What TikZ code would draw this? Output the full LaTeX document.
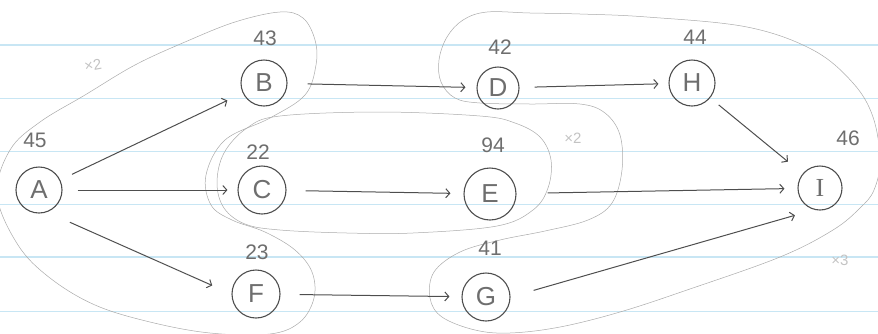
\documentclass[tikz,border=0pt]{standalone}
\usepackage{fontspec}
\setmainfont{Liberation Sans}
\newfontfamily\barfont{Liberation Serif}
\usepackage{tikz}
\usetikzlibrary{arrows.meta, positioning}
\definecolor{pencil}{RGB}{78,78,78}
\definecolor{pencillight}{RGB}{110,110,110}
\definecolor{pencilfaint}{RGB}{170,170,170}
\definecolor{pencilghost}{RGB}{195,195,195}
\definecolor{ruleblue}{RGB}{200,230,244}
\tikzset{
  task/.style={
    circle, draw=pencil, line width=1.1pt, minimum size=46pt,
    inner sep=0pt, text=pencillight, font=\fontsize{26}{26}\selectfont
  },
  weight/.style={text=pencillight, inner sep=0pt, font=\fontsize{21}{21}\selectfont},
  mult/.style={text=pencilghost, inner sep=0pt, font=\fontsize{15}{15}\selectfont},
  group/.style={draw=pencilfaint, line width=0.5pt},
  ruling/.style={draw=ruleblue, line width=1.1pt},
  arrowflow/.style={-{Straight Barb[length=4pt,width=9pt]}, line width=1pt, draw=pencil,
    shorten <=15pt, shorten >=12pt}
}

\begin{document}
\begin{tikzpicture}[x=1pt, y=-1pt]
\useasboundingbox (0,0) rectangle (878,333);

% ruled paper
\foreach \y in {45,98.3,151.7,204.3,257,311.5}
  \draw[ruling] (0,\y) -- (878,\y);

% groups
\draw[group] plot[smooth cycle, tension=0.6] coordinates {
  (-3,195) (10,150) (40,122) (85,95) (135,65) (185,42) (235,22) (280,12)
  (303,18) (315,40) (316,65) (305,95) (270,118) (225,140) (206,175)
  (211,205) (232,220) (265,232) (295,250) (312,272) (314,298) (300,322)
  (270,334) (210,333) (150,322) (95,305) (50,278) (18,245)};
\draw[group] plot[smooth cycle, tension=0.6] coordinates {
  (280,116) (380,112) (480,116) (515,123) (540,137) (551,160) (548,188)
  (533,210) (497,226) (413,233) (347,233) (280,230) (245,224) (224,208)
  (217,183) (224,153) (247,128)};
\draw[group] plot[smooth cycle, tension=0.6] coordinates {
  (487,12) (530,13) (580,14) (647,17) (747,27) (813,50) (853,83) (873,117)
  (880,160) (874,190) (860,208) (833,230) (780,257) (687,290) (620,312)
  (560,327) (510,333) (475,330) (442,317) (430,298) (434,272) (460,252)
  (500,240) (545,231) (588,220) (612,203) (622,170) (620,135) (605,113)
  (580,104) (530,104) (480,103) (455,98) (441,82) (439,60) (447,37) (463,20)};

% tasks
\node[task] (A) at (39,190) {A};
\node[task] (B) at (264,83) {B};
\node[task, minimum size=48pt] (C) at (262,190) {C};
\node[task, minimum size=48pt] (F) at (256,294) {F};
\node[task, minimum size=42pt] (D) at (498,88) {D};
\node[task, minimum size=52pt] (E) at (490,194) {E};
\node[task, minimum size=48pt] (G) at (486,297) {G};
\node[task] (H) at (692,83) {H};
\node[task, minimum size=44pt] (I) at (820,188) {\barfont I};

% durations
\node[weight] (wA) at (35,140) {45};
\node[weight] (wB) at (265,38) {43};
\node[weight] (wC) at (258,152) {22};
\node[weight] (wF) at (257,252) {23};
\node[weight] (wD) at (500,47) {42};
\node[weight] (wE) at (493,145) {94};
\node[weight] (wG) at (490,248) {41};
\node[weight] (wH) at (695,37) {44};
\node[weight] (wI) at (848,138) {46};

% multipliers
\node[mult, rotate=10] (mAB) at (93,65) {×2};
\node[mult] (mCE) at (573,138) {×2};
\node[mult] (mDI) at (840,260) {×3};

% precedences
\draw[arrowflow, shorten <=13pt, shorten >=17pt] (A) -- (B);
\draw[arrowflow, shorten >=10pt] (A) -- (C);
\draw[arrowflow, shorten <=25pt, shorten >=21pt] (A.-70) -- (F.west);
\draw[arrowflow, shorten <=20pt, shorten >=11pt] (B) -- (D);
\draw[arrowflow, shorten <=19pt, shorten >=13pt] (C) -- (E);
\draw[arrowflow, shorten <=19pt] (F) -- (G);
\draw[arrowflow, shorten >=10pt] (D) -- (H);
\draw[arrowflow, shorten <=11pt, shorten >=19pt] (H) -- (I);
\draw[arrowflow, shorten <=31pt, shorten >=13pt] (E) -- (I);
\draw[arrowflow, shorten <=24pt, shorten >=20pt] (G.east) -- (I.-105);

\end{tikzpicture}
\end{document}
